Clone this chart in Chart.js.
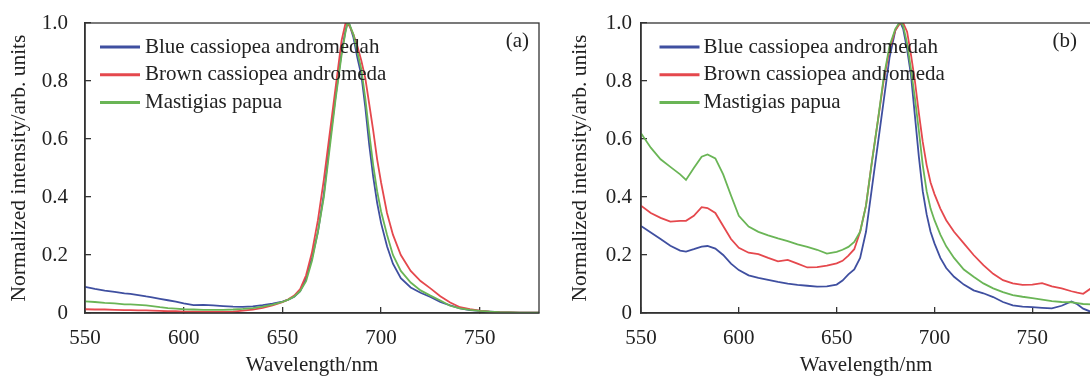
<!DOCTYPE html>
<html><head><meta charset="utf-8">
<script src="https://cdn.jsdelivr.net/npm/chart.js@4.4.1/dist/chart.umd.min.js"></script>
<style>
html,body{margin:0;padding:0;background:#fff;width:1090px;height:376px;overflow:hidden;}
#wrap{position:relative;width:1090px;height:376px;overflow:hidden;background:#fff;}
canvas{position:absolute;top:0;}
#ca{left:0;}
#cb{left:545px;}
</style></head><body>
<div id="wrap"><canvas id="ca" width="560" height="376"></canvas><canvas id="cb" width="560" height="376"></canvas></div>
<script>
const wavelengths = [550,555,560,565,570,573,577,581,584,588,
  592,596,600,605,610,615,620,625,630,635,
  640,645,650,653,656,659,662,665,668,671,
  674,677,680,682,683,684,686,688,690,692,
  694,696,698,700,703,706,710,715,720,725,
  730,735,740,745,750,755,760,765,770,773,
  776,780];
const seriesNames = ['Blue cassiopea andromedah','Brown cassiopea andromeda','Mastigias papua'];
const seriesColors = ['#3F4FA0','#E5484D','#6AB556'];

// panel (a)
const aBlue = [.090,.083,.077,.073,.068,.066,.062,.057,.054,.049,
  .044,.039,.033,.027,.028,.026,.024,.022,.021,.023,
  .027,.032,.039,.046,.056,.075,.12,.19,.28,.41,
  .59,.75,.90,.975,1.0,.995,.95,.88,.82,.71,
  .58,.47,.38,.31,.23,.17,.12,.088,.070,.055,
  .038,.026,.016,.010,.007,.005,.003,.002,.001,.001,
  .001,.001];
const aRed = [.013,.012,.012,.011,.010,.010,.009,.009,.008,.007,
  .006,.006,.005,.005,.004,.004,.004,.005,.008,.012,
  .018,.026,.037,.047,.060,.082,.13,.21,.32,.46,
  .62,.78,.94,1.0,.995,.99,.96,.92,.87,.81,
  .72,.63,.53,.45,.345,.27,.20,.145,.11,.085,
  .058,.036,.020,.013,.008,.005,.003,.002,.001,.001,
  .001,.001];
const aGreen = [.040,.038,.035,.033,.030,.030,.028,.026,.024,.020,
  .017,.015,.013,.012,.011,.011,.011,.012,.014,.017,
  .022,.029,.038,.046,.057,.075,.11,.18,.28,.40,
  .57,.74,.89,.97,1.0,.995,.96,.90,.84,.74,
  .62,.51,.42,.35,.27,.20,.145,.105,.078,.060,
  .043,.025,.016,.011,.007,.005,.003,.002,.001,.001,
  .001,.001];

// panel (b)
const bBlue = [.300,.278,.255,.232,.215,.212,.220,.229,.231,.222,
  .200,.170,.148,.130,.121,.114,.107,.101,.097,.094,
  .091,.092,.098,.112,.133,.15,.19,.28,.43,.58,
  .73,.88,.975,1.0,.995,.98,.91,.82,.68,.54,
  .42,.34,.28,.24,.19,.155,.125,.098,.078,.068,
  .055,.038,.026,.022,.020,.018,.016,.025,.040,.030,
  .015,.004];
const bRed = [.370,.345,.328,.315,.318,.318,.335,.365,.362,.345,
  .300,.255,.225,.208,.203,.190,.178,.183,.170,.157,
  .158,.163,.171,.180,.198,.22,.28,.37,.52,.66,
  .80,.91,.975,.995,1.0,1.0,.97,.89,.80,.69,
  .59,.51,.45,.41,.36,.32,.28,.24,.20,.165,
  .135,.113,.102,.097,.098,.103,.092,.085,.075,.070,
  .066,.085];
const bGreen = [.620,.570,.530,.504,.478,.459,.500,.539,.547,.533,
  .478,.405,.335,.298,.280,.268,.257,.248,.237,.228,
  .218,.205,.211,.218,.228,.245,.28,.37,.52,.66,
  .81,.92,.98,1.0,1.0,.99,.93,.84,.74,.63,
  .51,.42,.36,.32,.27,.23,.19,.15,.125,.102,
  .085,.072,.062,.056,.051,.046,.041,.038,.037,.034,
  .031,.030];

const xTicks = [550,600,650,700,750];
const xMin = 550, xMax = 780;
const yTicks = [0,0.2,0.4,0.6,0.8,1.0];
const yTickLabels = ['0','0.2','0.4','0.6','0.8','1.0'];
const xTitle = 'Wavelength/nm';
const yTitle = 'Normalized intensity/arb. units';
const panelLabels = ['(a)','(b)'];

const FONT = 'Liberation Serif';
const TXT = '#222';
const AX = '#333';

const decor = {
  id: 'decor',
  afterDatasetsDraw(chart, args, o) {
    const {ctx, chartArea: a} = chart;
    ctx.save();
    ctx.strokeStyle = AX; ctx.lineWidth = 1.3;
    ctx.strokeRect(a.left, a.top, a.right - a.left, a.bottom - a.top);
    ctx.font = '21px "' + FONT + '"';
    ctx.textBaseline = 'middle'; ctx.textAlign = 'left';
    chart.data.datasets.forEach((ds, i) => {
      const y = a.top + o.legendTop + i * o.legendGap;
      ctx.strokeStyle = ds.borderColor; ctx.lineWidth = 3;
      ctx.beginPath(); ctx.moveTo(a.left + o.lineX0, y); ctx.lineTo(a.left + o.lineX1, y); ctx.stroke();
      ctx.fillStyle = TXT; ctx.fillText(ds.label, a.left + o.textX, y);
    });
    ctx.textAlign = 'right';
    ctx.fillStyle = TXT;
    ctx.fillText(o.panel, a.right - o.panelDx, a.top + o.panelDy);
    ctx.restore();
  }
};

function makeChart(id, vals, cfg) {
  const datasets = vals.map((v, i) => ({
    label: seriesNames[i],
    data: wavelengths.map((w, j) => ({x: w, y: v[j]})),
    borderColor: seriesColors[i],
    backgroundColor: seriesColors[i],
    borderWidth: 1.8,
    pointRadius: 0,
    fill: false,
    tension: 0,
    order: 2 - i
  }));
  return new Chart(document.getElementById(id), {
    type: 'line',
    data: {datasets},
    plugins: [decor],
    options: {
      responsive: false,
      animation: false,
      events: [],
      layout: {padding: {left: 0, top: 23, right: cfg.padRight, bottom: 0}},
      plugins: {
        legend: {display: false},
        tooltip: {enabled: false},
        decor: cfg.decor
      },
      scales: {
        x: {
          type: 'linear', min: xMin, max: xMax,
          afterBuildTicks: s => { s.ticks = xTicks.map(v => ({value: v})); },
          afterFit: s => { s.height = 63; s.paddingLeft = 0; s.paddingRight = 0; },
          grid: {drawOnChartArea: false, drawTicks: true, tickLength: -6, color: AX, lineWidth: 1.3},
          border: {display: true, color: AX, width: 1.5},
          ticks: {padding: 19, color: TXT, autoSkip: false, maxRotation: 0,
                  font: {family: FONT, size: 21}},
          title: {display: true, text: xTitle, color: TXT,
                  font: {family: FONT, size: 21, lineHeight: 1}, padding: {top: 0, bottom: 0.5}}
        },
        y: {
          type: 'linear', min: 0, max: 1,
          afterBuildTicks: s => { s.ticks = yTicks.map(v => ({value: v})); },
          afterFit: s => { s.width = cfg.yWidth; s.paddingTop = 0; s.paddingBottom = 0; },
          grid: {drawOnChartArea: false, drawTicks: true, tickLength: -6, color: AX, lineWidth: 1.3},
          border: {display: true, color: AX, width: 1.5},
          ticks: {padding: cfg.yTickPad, color: TXT, autoSkip: false,
                  font: {family: FONT, size: 21},
                  callback: v => yTickLabels[yTicks.findIndex(t => Math.abs(t - v) < 1e-6)]},
          title: {display: true, text: yTitle, color: TXT,
                  font: {family: FONT, size: 21.5, lineHeight: 1}, padding: {top: cfg.yTitlePad, bottom: 0}}
        }
      }
    }
  });
}

makeChart('ca', [aBlue, aRed, aGreen], {
  padRight: 21, yWidth: 85, yTickPad: 23, yTitlePad: 9,
  decor: {legendTop: 24, legendGap: 27.8, lineX0: 15, lineX1: 55, textX: 60, panel: panelLabels[0], panelDx: 10, panelDy: 18.5}
});
makeChart('cb', [bBlue, bRed, bGreen], {
  padRight: 14, yWidth: 96, yTickPad: 15, yTitlePad: 25,
  decor: {legendTop: 24, legendGap: 27.8, lineX0: 18.5, lineX1: 58.5, textX: 62.5, panel: panelLabels[1], panelDx: 14, panelDy: 18.5}
});
</script>
</body></html>
